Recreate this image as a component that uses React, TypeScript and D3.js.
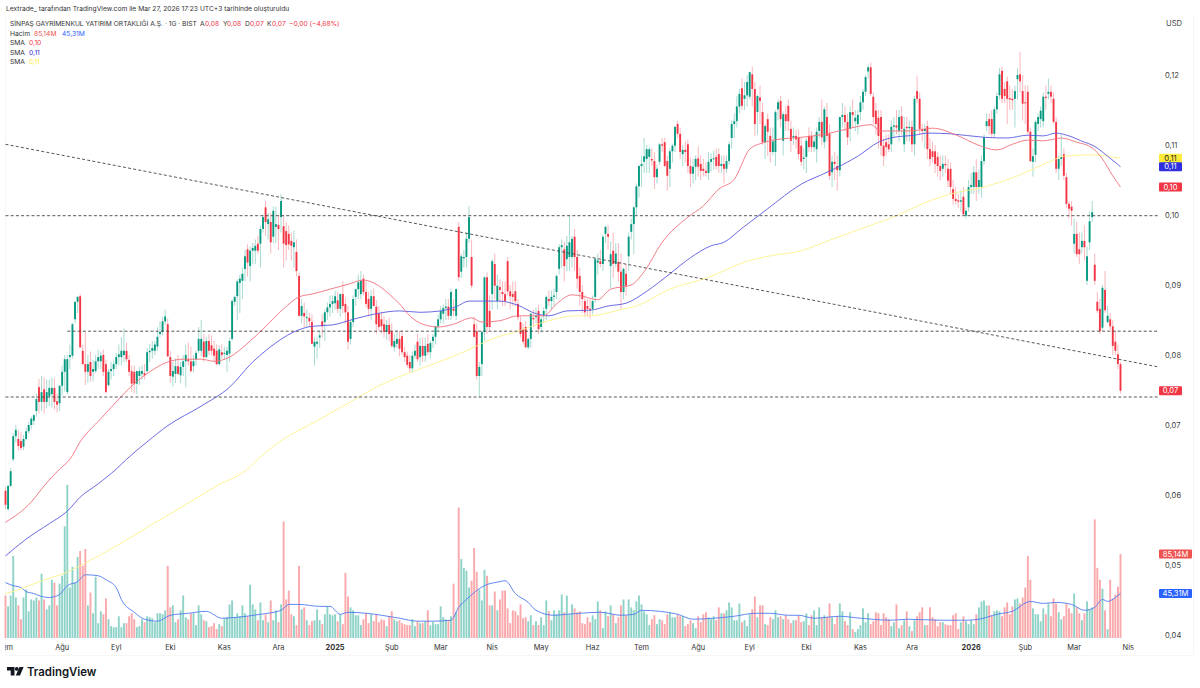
import { useEffect, useRef } from 'react';
import * as d3 from 'd3';

// prices are in 1/10000 USD, rows are [open, high, low, close]
type Candle = number[];

const candles2024: Candle[] = [
  [606,611,580,586],[580,614,577,613],[613,638,611,634],[651,688,648,684],[684,700,675,693],[680,692,663,670],[677,690,664,667],[669,686,664,680],
  [680,696,678,691],[691,704,688,700],[700,712,694,709],[706,716,700,714],[720,745,712,737],[754,766,717,733],[733,770,720,747],[751,768,716,733],
  [733,765,724,747],[741,765,727,753],[744,768,725,753],[753,766,722,733],[734,745,718,729],[731,757,720,756],[756,785,742,776],[776,800,748,794],
  [747,800,744,794],[797,815,780,800],[799,846,795,844],[851,876,845,876],[876,884,860,883],[884,887,810,811],[806,815,785,787],[787,833,757,776],
  [776,800,760,787],[790,805,762,770],[776,793,762,780],[777,800,775,791],[791,808,780,797],[791,805,780,799],[800,808,770,776],[787,793,745,747],
  [757,780,755,776],[777,790,765,780],[780,792,770,787],[787,803,780,797],[797,815,785,801],[797,826,785,806],[800,838,790,806],[806,818,790,794],
  [793,800,770,776],[777,785,747,759],[776,785,745,759],[759,778,744,777],[770,783,757,777],[773,785,765,777],[774,787,765,771],[777,810,775,804],
  [804,815,790,806],[806,820,795,810],[806,820,800,815],[812,840,806,826],[830,848,825,833],[833,855,828,848],[848,865,843,855],[844,852,798,798],
  [797,806,760,770],[769,790,755,777],[773,795,760,784],[784,800,772,773],[771,790,760,783],[783,800,770,791],[791,815,754,800],[794,818,785,791],
  [791,812,775,777],[784,800,775,791],[794,806,785,803],[806,840,803,823],[806,850,798,823],[819,830,790,797],[797,826,795,820],[820,830,800,806],
  [814,828,800,806],[809,820,790,799],[806,815,785,787],[787,814,785,808],[804,815,795,800],[802,812,793,803],[800,812,776,806],[802,825,790,820],
  [823,880,820,877],[876,885,870,883],[884,908,850,905],[903,915,860,909],[906,925,880,916],[923,950,905,941],[951,958,912,932],[927,955,905,949],
  [949,960,930,953],[949,965,930,956],[959,970,945,949],[959,985,925,980],[980,1000,975,997],[1011,1020,970,990],[987,1003,965,994],[990,1003,945,961],
  [969,1012,960,1006],[983,1012,960,987],[986,1000,950,980],[997,1030,975,1020],[984,1000,925,959],[977,990,935,957],[973,985,950,958],[963,975,935,956],
  [954,978,925,961],[947,965,912,920],[913,918,855,856],[856,880,845,870],[860,875,840,855],[853,865,840,854],[853,860,840,848],[847,858,815,816],
  [812,825,785,819],[816,825,795,819],[825,835,810,828],[848,858,825,841],[847,865,820,861],[861,875,850,868],[868,885,855,873],[873,885,860,877],
];

const candles2025: Candle[] = [
  [874,892,865,884],[878,890,860,866],[866,888,855,887],[887,905,860,870],[873,882,845,861],[861,870,808,819],[823,850,815,847],[847,885,840,880],
  [883,895,870,894],[894,915,880,904],[887,920,880,906],[909,915,885,890],[890,905,868,873],[880,890,855,866],[866,893,850,884],[884,895,870,870],
  [869,878,830,844],[859,870,835,840],[851,862,830,841],[844,855,825,833],[833,850,822,843],[843,853,820,830],[834,845,810,813],[811,830,805,820],
  [816,835,810,823],[823,835,798,809],[827,835,800,804],[804,812,790,797],[799,805,782,786],[790,800,775,781],[781,805,775,799],[799,815,795,806],
  [819,830,790,794],[797,825,785,813],[813,825,790,799],[799,825,790,813],[816,830,800,804],[804,820,795,817],[820,830,810,826],[826,842,815,841],
  [841,858,835,851],[851,870,845,863],[859,872,845,867],[867,880,850,869],[869,880,850,856],[856,895,850,890],[866,880,855,863],[856,895,850,894],
  [983,990,905,911],[919,945,910,941],[938,950,925,940],[940,975,925,966],[966,1013,960,997],[940,965,895,899],[844,855,825,826],[834,845,765,770],
  [770,790,741,783],[787,835,770,833],[833,912,820,911],[911,918,830,840],[863,885,835,840],[887,937,865,934],[930,945,880,899],[877,915,865,899],
  [897,908,875,893],[890,905,870,887],[887,905,870,877],[934,940,885,891],[891,900,865,884],[887,905,870,883],[891,905,870,877],[873,880,850,854],
  [847,855,825,830],[837,845,815,819],[840,848,810,811],[811,825,808,823],[823,860,810,859],[853,865,840,851],[854,868,845,856],[863,872,830,837],
  [840,855,832,851],[856,868,845,863],[866,885,850,883],[880,892,870,877],[877,892,865,883],[883,895,870,885],[890,915,880,913],[923,958,915,954],
  [954,965,925,957],[951,962,905,927],[937,970,920,956],[940,1000,920,961],[940,970,925,966],[969,980,920,940],[940,950,895,909],[913,925,870,890],
  [890,900,860,880],[877,885,855,861],[870,880,855,866],[866,880,852,864],[866,885,858,877],[883,940,875,937],[932,945,915,935],[934,950,925,930],
  [930,972,920,969],[973,985,960,983],[973,985,950,969],[927,962,895,944],[949,975,910,930],[930,960,925,945],[933,960,905,919],[919,945,865,890],
  [890,925,880,923],[916,930,885,899],[941,975,920,969],[976,995,965,987],[987,1012,944,1011],[1011,1045,1000,1041],[1041,1072,1025,1070],[1070,1085,1040,1073],
  [1076,1110,1060,1084],[1080,1100,1060,1094],[1083,1097,1060,1094],[1080,1095,1070,1078],[1077,1090,1037,1054],[1054,1072,1045,1066],[1076,1103,1072,1101],[1101,1110,1090,1099],
  [1104,1110,1068,1070],[1077,1085,1035,1056],[1066,1095,1040,1091],[1091,1102,1075,1099],[1099,1127,1090,1126],[1130,1135,1110,1116],[1116,1125,1080,1090],[1087,1100,1070,1093],
  [1093,1105,1075,1090],[1101,1108,1060,1070],[1070,1082,1040,1059],[1059,1080,1045,1069],[1069,1085,1050,1080],[1081,1098,1055,1069],[1073,1085,1050,1063],[1066,1080,1055,1063],
  [1063,1075,1055,1060],[1060,1090,1050,1076],[1076,1088,1062,1080],[1080,1092,1065,1081],[1083,1095,1065,1070],[1087,1095,1060,1070],[1070,1085,1060,1073],[1073,1085,1045,1066],
  [1066,1085,1060,1077],[1077,1105,1072,1101],[1110,1135,1095,1130],[1130,1145,1110,1134],[1134,1170,1125,1155],[1155,1180,1145,1173],[1181,1195,1150,1156],[1166,1190,1150,1171],
  [1171,1200,1155,1190],[1169,1205,1165,1204],[1201,1212,1155,1180],[1180,1190,1113,1130],[1147,1172,1115,1170],[1168,1185,1130,1163],[1147,1160,1100,1104],[1104,1130,1080,1127],
  [1137,1145,1084,1119],[1113,1125,1075,1090],[1090,1125,1085,1105],[1090,1150,1070,1147],[1151,1165,1135,1161],[1163,1170,1125,1137],[1106,1148,1085,1144],[1144,1155,1120,1134],
  [1156,1165,1120,1134],[1123,1135,1090,1106],[1111,1125,1100,1113],[1113,1122,1095,1108],[1111,1122,1080,1087],[1099,1110,1070,1076],[1080,1095,1065,1082],[1083,1110,1060,1106],
  [1113,1125,1090,1097],[1113,1120,1090,1097],[1097,1115,1090,1105],[1094,1125,1075,1119],[1120,1140,1110,1133],[1133,1165,1100,1111],[1104,1155,1095,1151],[1140,1160,1105,1113],
  [1116,1130,1050,1056],[1061,1085,1040,1076],[1076,1090,1050,1073],[1070,1085,1035,1064],[1064,1140,1055,1140],[1140,1160,1125,1143],[1143,1155,1120,1133],[1133,1145,1100,1111],
  [1123,1155,1105,1147],[1147,1165,1125,1143],[1134,1150,1120,1139],[1130,1150,1115,1143],[1147,1170,1135,1161],[1161,1180,1150,1176],[1176,1200,1170,1197],[1205,1215,1195,1211],
  [1211,1218,1170,1173],[1169,1175,1130,1140],[1149,1160,1115,1130],[1139,1150,1095,1113],[1140,1150,1085,1099],[1099,1110,1070,1084],[1104,1115,1085,1097],[1101,1115,1090,1094],
  [1101,1135,1090,1126],[1126,1140,1110,1128],[1128,1150,1115,1125],[1120,1150,1105,1140],[1141,1155,1115,1123],[1101,1140,1090,1123],[1126,1140,1105,1124],[1124,1135,1105,1126],
  [1126,1135,1090,1101],[1101,1170,1085,1166],[1177,1199,1160,1166],[1166,1175,1115,1123],[1123,1130,1105,1120],[1120,1130,1095,1123],[1127,1135,1080,1094],[1094,1110,1070,1080],
  [1091,1105,1075,1083],[1091,1100,1060,1073],[1083,1090,1055,1070],[1070,1085,1050,1063],[1066,1085,1055,1073],[1073,1085,1060,1071],[1066,1080,1040,1049],[1066,1075,1030,1040],
  [1037,1050,1015,1023],[1023,1040,1015,1020],[1021,1030,1010,1019],[1019,1035,1005,1021],[1026,1040,1000,1001],[999,1010,995,1006],[1011,1050,1005,1040],
];

const candles2026: Candle[] = [
  [1040,1060,1030,1043],[1040,1070,1030,1061],[1061,1080,1020,1040],[1040,1065,1030,1050],[1040,1085,1025,1077],[1077,1115,1072,1111],[1127,1145,1120,1134],[1137,1145,1115,1127],
  [1137,1150,1110,1116],[1116,1155,1110,1151],[1151,1175,1145,1170],[1171,1210,1165,1201],[1206,1212,1160,1166],[1180,1190,1160,1170],[1191,1198,1130,1166],[1167,1185,1150,1165],
  [1166,1180,1150,1164],[1166,1185,1125,1177],[1194,1210,1165,1200],[1201,1233,1175,1191],[1177,1200,1135,1159],[1161,1185,1130,1160],[1176,1185,1115,1119],[1119,1125,1075,1077],
  [1076,1095,1055,1084],[1086,1135,1075,1133],[1130,1145,1120,1140],[1137,1155,1125,1149],[1134,1175,1125,1169],[1169,1185,1150,1167],[1173,1195,1165,1176],[1176,1185,1160,1169],
  [1166,1175,1130,1133],[1133,1140,1060,1066],[1066,1085,1050,1080],[1080,1115,1070,1083],[1087,1095,1050,1056],[1054,1060,1010,1016],[1016,1020,995,1009],[1012,1020,985,1006],
  [959,995,945,973],[973,990,940,944],[951,975,930,944],[954,975,945,963],[963,985,935,954],[906,955,900,941],[961,1005,950,991],[997,1020,990,1004],
  [929,945,900,906],[876,890,860,863],[866,880,830,834],[839,900,835,896],[893,920,860,864],[847,870,845,856],[851,860,835,841],[841,850,800,813],
  [819,835,800,806],[801,815,780,787],[787,790,745,749],
];

// volume in millions, one value per candle
const volumes2024 = [
  43,32,43,83,41,33,19,41,49,27,39,38,41,38,65,39,29,33,59,56,33,55,63,113,155,51,72,56,82,88,73,90,33,46,25,62,15,27,24,40,
  19,12,11,11,22,11,15,15,22,25,19,11,12,19,16,22,21,20,16,25,25,24,28,73,31,33,16,19,28,43,21,19,25,25,13,33,24,18,17,11,
  12,15,9,14,12,20,21,34,38,21,25,22,33,25,22,54,34,29,18,36,18,24,16,38,18,28,16,34,118,39,48,24,22,13,73,29,31,18,13,17,
  18,29,18,14,24,32,24,23,24,17,24,14,66,42,31,28,23,23,13,19,25,15,24,17,24,16,19,18,12,22,27,19,17,18,15,
];
const volumes2025 = [
  14,13,13,19,12,17,15,15,17,28,13,16,14,14,32,21,19,18,22,55,26,132,80,71,68,51,58,91,67,49,38,69,63,33,33,47,28,39,48,48,
  30,15,28,27,23,34,20,21,17,23,13,17,13,21,13,38,27,18,28,24,28,44,26,43,24,34,30,26,27,15,14,21,16,23,19,37,28,10,27,22,
  33,24,15,21,33,39,23,39,31,28,37,43,34,27,24,13,19,23,14,19,18,14,24,26,21,21,24,22,22,12,14,18,15,10,22,16,24,26,
  21,19,22,18,31,25,25,28,36,31,18,18,35,16,18,12,24,29,42,21,33,33,14,13,21,19,28,21,22,19,23,19,15,18,18,23,
  16,17,25,13,23,28,13,31,21,23,21,35,21,14,22,35,27,17,13,26,9,6,9,13,30,16,25,14,17,26,25,13,25,21,19,12,16,34,10,13,
  18,27,12,7,18,22,26,31,13,13,31,21,19,12,16,16,14,13,13,23,25,9,16,22,17,14,18,14,24,
];
const volumes2026 = [
  31,37,38,33,33,23,27,28,27,22,31,36,24,32,39,40,35,41,51,83,59,30,24,24,17,30,24,35,22,40,35,26,19,22,35,30,25,45,31,25,
  18,25,37,29,31,120,71,59,50,28,9,59,40,44,52,85,
];

// [bar index, price] read along each moving average
const smaFast = [
  [0,561],[10,590],[15,613],[21,637],[25,651],[29,676],[37,709],[43,733],[50,759],[56,776],[63,790],[69,794],[76,794],[81,791],[87,797],[95,820],
  [100,837],[108,866],[114,883],[119,887],[126,894],[133,901],[139,907],[144,901],[149,887],[153,873],[157,856],[162,844],[168,840],[174,844],[181,853],[185,847],
  [192,849],[199,856],[209,856],[214,873],[220,886],[224,884],[230,879],[235,894],[243,900],[248,919],[255,961],[265,997],[271,1013],[277,1037],[283,1051],[289,1094],
  [294,1103],[302,1109],[309,1111],[319,1116],[328,1124],[336,1129],[340,1120],[349,1120],[354,1121],[360,1124],[370,1113],[377,1101],[385,1093],[391,1101],[397,1107],[403,1106],
  [410,1110],[416,1104],[422,1096],[426,1080],[430,1056],[433,1040],
];
const smaMid = [
  [0,513],[8,537],[17,559],[24,577],[29,597],[36,616],[43,637],[47,651],[55,676],[63,699],[76,727],[87,754],[96,790],[102,809],[112,833],[119,841],
  [127,843],[135,851],[144,859],[153,863],[161,861],[169,863],[175,869],[180,877],[185,877],[192,877],[199,871],[206,859],[211,856],[218,863],[227,864],[234,870],
  [241,874],[249,891],[258,916],[266,939],[274,956],[279,961],[286,981],[296,1009],[309,1044],[319,1061],[331,1084],[339,1104],[345,1111],[353,1114],[358,1117],[367,1116],
  [380,1111],[389,1110],[397,1114],[403,1113],[408,1117],[413,1113],[419,1104],[422,1100],[428,1084],[433,1069],
];
const smaSlow = [
  [0,459],[6,466],[13,476],[24,490],[30,501],[43,527],[56,556],[69,584],[82,613],[94,637],[98,651],[108,680],[121,706],[134,733],[144,754],[153,769],
  [166,787],[179,806],[189,823],[199,834],[211,849],[222,856],[227,856],[238,864],[245,870],[258,894],[273,911],[288,934],[296,941],[309,949],[320,964],[332,980],
  [346,999],[358,1019],[367,1030],[380,1040],[393,1056],[406,1077],[411,1084],[422,1086],[428,1084],[433,1081],
];
const volumeMa = [
  [0,56],[3,53],[6,51],[8,47],[11,45],[14,42],[17,41],[21,44],[24,53],[28,57],[31,64],[36,63],[39,59],[43,51],[45,39],[50,26],
  [54,19],[59,17],[64,23],[71,25],[78,27],[84,20],[90,21],[99,24],[107,28],[110,34],[114,34],[122,32],[126,32],[130,24],[133,26],[140,25],
  [153,20],[160,17],[166,17],[173,18],[176,31],[179,39],[186,53],[192,57],[194,58],[198,45],[203,36],[206,28],[213,23],[218,24],[231,26],[239,23],
  [244,24],[247,28],[254,27],[261,24],[267,19],[275,20],[283,22],[291,25],[297,25],[304,23],[308,23],[314,20],[324,22],[332,20],[344,18],[350,19],
  [363,18],[373,18],[378,19],[385,24],[391,27],[398,37],[403,35],[408,36],[414,34],[419,28],[423,31],[426,39],[428,37],[431,41],[433,45],
];

const priceTicks = [0.12, 0.11, 0.1, 0.09, 0.08, 0.07, 0.06, 0.05, 0.04];
const monthTicks: [number, string, boolean][] = [
  [0,'Tem',false],[22,'Ağu',false],[43,'Eyl',false],[64,'Eki',false],[85,'Kas',false],[106,'Ara',false],[128,'2025',true],
  [150,'Şub',false],[169,'Mar',false],[189,'Nis',false],[208,'May',false],[228,'Haz',false],[247,'Tem',false],[269,'Ağu',false],
  [289,'Eyl',false],[311,'Eki',false],[332,'Kas',false],[352,'Ara',false],[375,'2026',true],[396,'Şub',false],[415,'Mar',false],[436,'Nis',false],
];
const levels = [
  { from: 0, price: 999 },
  { from: 24, price: 834 },
  { from: 0, price: 740 },
];
const trendLine = [[0, 1101], [447.6, 783]];

const RED = '#f23645';
const GREEN = '#089981';
const FONT = 'Inter, "Noto Sans", sans-serif';

export default function App() {
  const svgRef = useRef<SVGSVGElement>(null);

  useEffect(() => {
    if (!svgRef.current) return;
    const svg = d3.select(svgRef.current);
    svg.selectAll('*').remove();

    const candles = [...candles2024, ...candles2025, ...candles2026];
    const volumes = [...volumes2024, ...volumes2025, ...volumes2026];

    // Scales
    const x = d3.scaleLinear().domain([0, 433]).range([5.5, 1120.5]);
    const y = d3.scaleLinear().domain([400, 1200]).range([635, 75]);
    const yVol = d3.scaleLinear().domain([0, 85]).range([638, 554]);
    const rising = (c: Candle) => c[3] >= c[0];

    // Frame
    svg.append('rect').attr('width', 1200).attr('height', 688).attr('fill', '#fff');
    svg.append('path')
      .attr('d', 'M5.5 16V655.5H1193.5V16')
      .attr('fill', 'none')
      .attr('stroke', '#f6f6f7');

    svg.append('clipPath').attr('id', 'pane')
      .append('rect').attr('x', 5).attr('y', 16).attr('width', 1190).attr('height', 640);

    // Volume
    svg.append('g').selectAll('rect')
      .data(volumes)
      .enter().append('rect')
      .attr('x', (_, i) => x(i) - 0.95)
      .attr('y', d => yVol(d))
      .attr('width', 1.9)
      .attr('height', d => yVol(0) - yVol(d))
      .attr('fill', (_, i) => candles[i] && rising(candles[i]) ? '#8fd3c8' : '#f9a8ab');

    const lineOf = (scale: d3.ScaleLinear<number, number>) =>
      d3.line<number[]>().x(d => x(d[0])).y(d => scale(d[1])).curve(d3.curveMonotoneX);

    svg.append('path')
      .attr('d', lineOf(yVol)(volumeMa))
      .attr('fill', 'none')
      .attr('stroke', '#4f7bf0')
      .attr('stroke-width', 0.9);

    // Candles
    const candleG = svg.append('g').selectAll('g')
      .data(candles)
      .enter().append('g');
    candleG.append('line')
      .attr('x1', (_, i) => x(i))
      .attr('x2', (_, i) => x(i))
      .attr('y1', d => y(d[1]))
      .attr('y2', d => y(d[2]))
      .attr('stroke', d => rising(d) ? GREEN : RED)
      .attr('stroke-opacity', 0.45)
      .attr('stroke-width', 0.8);
    candleG.append('rect')
      .attr('x', (_, i) => x(i) - 0.95)
      .attr('y', d => y(Math.max(d[0], d[3])))
      .attr('width', 1.9)
      .attr('height', d => Math.max(1, Math.abs(y(d[0]) - y(d[3]))))
      .attr('fill', d => rising(d) ? GREEN : RED);

    // Moving averages
    [
      { data: smaSlow, color: '#fdf08a' },
      { data: smaMid, color: '#5a5ae0' },
      { data: smaFast, color: '#f0707a' },
    ].forEach(s => {
      svg.append('path')
        .attr('d', lineOf(y)(s.data))
        .attr('fill', 'none')
        .attr('stroke', s.color)
        .attr('stroke-width', 0.9);
    });

    // Drawn levels and trend line
    const dashed = svg.append('g')
      .attr('stroke', '#444')
      .attr('stroke-width', 0.9)
      .attr('stroke-dasharray', '3 2.2');
    levels.forEach(l => {
      dashed.append('line')
        .attr('x1', x(l.from)).attr('x2', x(trendLine[1][0]))
        .attr('y1', y(l.price)).attr('y2', y(l.price));
    });
    dashed.append('line')
      .attr('x1', x(trendLine[0][0])).attr('y1', y(trendLine[0][1]))
      .attr('x2', x(trendLine[1][0])).attr('y2', y(trendLine[1][1]));

    // Price axis
    const axisG = svg.append('g').attr('font-family', FONT).attr('font-size', 7.6);
    axisG.selectAll('text')
      .data(priceTicks)
      .enter().append('text')
      .attr('x', 1165)
      .attr('y', d => y(d * 10000) + 3)
      .attr('fill', '#444')
      .text(d => d.toFixed(2).replace('.', ','));
    axisG.append('text').attr('x', 1166).attr('y', 26).attr('fill', '#444').text('USD');

    // Last value labels
    const tags = [
      { top: y(1081) - 4.5, label: '0,11', bg: '#fdeb3b', fg: '#222', w: 23 },
      { top: y(1069) - 4.5, label: '0,11', bg: '#2f2fe0', fg: '#fff', w: 23 },
      { top: y(1040) - 4.5, label: '0,10', bg: RED, fg: '#fff', w: 23 },
      { top: y(749) - 4.5, label: '0,07', bg: RED, fg: '#fff', w: 23 },
      { top: yVol(85) - 4.5, label: '85,14M', bg: '#ef5350', fg: '#fff', w: 33 },
      { top: yVol(45) - 4.5, label: '45,31M', bg: '#2962ff', fg: '#fff', w: 33 },
    ];
    tags.forEach(t => {
      axisG.append('rect')
        .attr('x', 1159).attr('y', t.top).attr('width', t.w).attr('height', 9).attr('rx', 1)
        .attr('fill', t.bg);
      axisG.append('text')
        .attr('x', 1159 + t.w / 2).attr('y', t.top + 7.2)
        .attr('text-anchor', 'middle').attr('fill', t.fg)
        .text(t.label);
    });

    // Time axis
    svg.append('g').attr('font-family', FONT).attr('font-size', 7.4).attr('clip-path', 'url(#pane)')
      .selectAll('text')
      .data(monthTicks)
      .enter().append('text')
      .attr('x', d => x(d[0]))
      .attr('y', 650)
      .attr('text-anchor', 'middle')
      .attr('fill', '#333')
      .attr('font-weight', d => d[2] ? 700 : 400)
      .text(d => d[1]);

    // Header
    const head = svg.append('g').attr('font-family', FONT).attr('font-size', 6.7).attr('fill', '#333');
    head.append('text').attr('x', 6).attr('y', 11.4)
      .text('Lextrade_ tarafından TradingView.com ile Mar 27, 2026 17:23 UTC+3 tarihinde oluşturuldu');

    const row = (yPos: number, parts: [number, string, string][]) => {
      parts.forEach(([xPos, text, color]) => {
        head.append('text').attr('x', xPos).attr('y', yPos).attr('fill', color).text(text);
      });
    };
    row(26.4, [
      [10, 'SİNPAŞ GAYRİMENKUL YATIRIM ORTAKLIĞI A.Ş. · 1G · BIST', '#333'],
      [200, 'A', '#333'], [205, '0,08', RED],
      [223, 'Y', '#333'], [227, '0,08', RED],
      [245, 'D', '#333'], [250, '0,07', RED],
      [267, 'K', '#333'], [272, '0,07', RED],
      [289, '−0,00 (−4,68%)', RED],
    ]);
    row(35.7, [[10, 'Hacim', '#333'], [34, '85,14M', '#ef5350'], [62, '45,31M', '#2962ff']]);
    row(45.1, [[10, 'SMA', '#333'], [29, '0,10', RED]]);
    row(54.7, [[10, 'SMA', '#333'], [29, '0,11', '#2f2fe0']]);
    row(64.1, [[10, 'SMA', '#333'], [29, '0,11', '#fdeb3b']]);

    // Logo
    const logo = svg.append('g').attr('fill', '#131722');
    logo.append('path').attr('d', 'M7 667H14.5V675.5H10.7V670.6H7Z');
    logo.append('circle').attr('cx', 16.8).attr('cy', 668.9).attr('r', 1.9);
    logo.append('path').attr('d', 'M19.5 667H23.6L20 675.5H15.8Z');
    logo.append('text')
      .attr('x', 27).attr('y', 675.5)
      .attr('font-family', FONT).attr('font-size', 11.4).attr('font-weight', 600)
      .text('TradingView');
  }, []);

  return (
    <svg
      ref={svgRef}
      width={1200}
      height={688}
      style={{ position: 'absolute', left: 0, top: 0, display: 'block' }}
    />
  );
}
